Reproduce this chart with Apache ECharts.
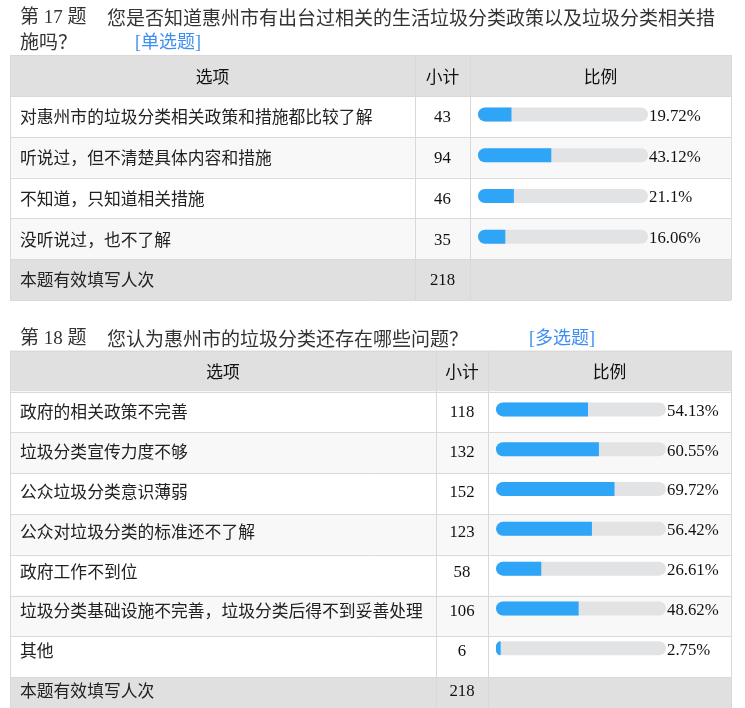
<!DOCTYPE html>
<html><head><meta charset="utf-8">
<script src="https://cdn.jsdelivr.net/npm/echarts@6/dist/echarts.min.js"></script>
<style>html,body{margin:0;padding:0;background:#fff}#c{width:745px;height:708px}</style>
</head><body><div id="c"></div>
<script>
// ---------- data ----------
const q17Title = ['第 17 题', '您是否知道惠州市有出台过相关的生活垃圾分类政策以及垃圾分类相关措', '施吗？'];
const q17Type = '[单选题]';
const q17Options = ['对惠州市的垃圾分类相关政策和措施都比较了解', '听说过，但不清楚具体内容和措施', '不知道，只知道相关措施', '没听说过，也不了解'];
const q17Counts = [43, 94, 46, 35];
const q17Percents = [19.72, 43.12, 21.1, 16.06];
const q17Total = 218;

const q18Title = ['第 18 题', '您认为惠州市的垃圾分类还存在哪些问题？'];
const q18Type = '[多选题]';
const q18Options = ['政府的相关政策不完善', '垃圾分类宣传力度不够', '公众垃圾分类意识薄弱', '公众对垃圾分类的标准还不了解', '政府工作不到位', '垃圾分类基础设施不完善，垃圾分类后得不到妥善处理', '其他'];
const q18Counts = [118, 132, 152, 123, 58, 106, 6];
const q18Percents = [54.13, 60.55, 69.72, 56.42, 26.61, 48.62, 2.75];
const q18Total = 218;

const headerLabels = ['选项', '小计', '比例'];
const footerLabel = '本题有效填写人次';
const percentMax = 100;

// ---------- styles / layout ----------
const SANS = '"Noto Sans CJK SC", sans-serif';
const SERIF = '"Liberation Serif", "Noto Sans CJK SC", serif';
const FS = 16.8;
const BLUE = '#2fa5f7';
const TRACK = '#e2e3e5';
const HEAD_BG = '#e0e0e0';
const ALT_BG = '#f8f8f8';
const LINE = '#d9d9d9';
const ROW_H = 40.8, HEAD_H = 41, BAR_W = 170;

const tables = [
  {top: 55, cols: [10, 415, 470, 731], barStart: 478,
   options: q17Options, counts: q17Counts, percents: q17Percents, total: q17Total},
  {top: 350.5, cols: [10, 436, 488, 731], barStart: 496,
   options: q18Options, counts: q18Counts, percents: q18Percents, total: q18Total}
];

const grids = [], xAxes = [], yAxes = [], series = [], graphics = [];

tables.forEach((t, i) => {
  const n = t.options.length + 1;
  const bodyTop = t.top + HEAD_H;
  const bottom = bodyTop + n * ROW_H;
  const [c0, c1, c2, c3] = t.cols;
  graphics.push({type: 'rect', z: 0, shape: {x: c0, y: t.top, width: c3 - c0, height: HEAD_H}, style: {fill: HEAD_BG}});
  for (let r = 0; r < n; r++) {
    const fill = r === n - 1 ? HEAD_BG : (r % 2 === 1 ? ALT_BG : '#ffffff');
    graphics.push({type: 'rect', z: 0, shape: {x: c0, y: bodyTop + r * ROW_H, width: c3 - c0, height: ROW_H}, style: {fill}});
  }
  const ys = [t.top, bodyTop];
  for (let r = 1; r <= n; r++) ys.push(bodyTop + r * ROW_H);
  ys.forEach(y => {
    const yy = Math.round(y) + 0.5;
    graphics.push({type: 'line', z: 1, shape: {x1: c0, y1: yy, x2: c3, y2: yy}, style: {stroke: LINE, lineWidth: 1}});
  });
  [c0, c1, c2, c3].forEach(x => {
    const xx = Math.round(x) + 0.5;
    graphics.push({type: 'line', z: 1, shape: {x1: xx, y1: t.top, x2: xx, y2: bottom}, style: {stroke: LINE, lineWidth: 1}});
  });
  const centers = [(c0 + c1) / 2, (c1 + c2) / 2, (c2 + c3) / 2];
  headerLabels.forEach((h, k) => {
    graphics.push({type: 'text', z: 2, x: centers[k], y: t.top + HEAD_H / 2 + 1,
      style: {text: h, fontSize: FS, fontFamily: SANS, fill: '#111', align: 'center', verticalAlign: 'middle'}});
  });

  grids.push({left: t.barStart, width: BAR_W, top: bodyTop - 2, height: n * ROW_H, containLabel: false});
  xAxes.push({gridIndex: i, type: 'value', min: 0, max: percentMax, show: false});
  const countCenter = (c1 + c2) / 2;
  yAxes.push({
    gridIndex: i, type: 'category', inverse: true, z: 10,
    data: t.options.concat([footerLabel]),
    axisLine: {show: false}, axisTick: {show: false}, splitLine: {show: false},
    axisLabel: {interval: 0, align: 'left', margin: t.barStart - 20,
      formatter: v => '{a|' + v + '}',
      rich: {a: {fontSize: FS, fontFamily: SANS, color: '#222', padding: [5, 0, 0, 0]}}}
  });
  yAxes.push({
    gridIndex: i, type: 'category', inverse: true, position: 'left', offset: 0, z: 10,
    data: t.counts.map(String).concat([String(t.total)]),
    axisLine: {show: false}, axisTick: {show: false}, splitLine: {show: false},
    axisLabel: {interval: 0, align: 'center', margin: t.barStart - countCenter,
      formatter: v => '{a|' + v + '}',
      rich: {a: {fontSize: FS, fontFamily: SERIF, color: '#111', padding: [7, 0, 0, 0]}}}
  });
  const pcts = t.percents;
  series.push({
    type: 'bar', xAxisIndex: i, yAxisIndex: i * 2, z: 5, barWidth: 14, barGap: '-100%', silent: true,
    data: t.options.map(() => percentMax).concat(['-']),
    itemStyle: {color: TRACK, borderRadius: 7},
    label: {show: true, position: 'right', distance: 1, offset: [0, 2], fontSize: FS, fontFamily: SERIF, color: '#111',
      formatter: p => pcts[p.dataIndex] + '%'}
  });
  series.push({
    type: 'bar', xAxisIndex: i, yAxisIndex: i * 2, z: 6, barWidth: 14, barGap: '-100%', silent: true,
    data: pcts.concat(['-']),
    itemStyle: {color: BLUE, borderRadius: [7, 0, 0, 7]}
  });
});

const TITLE_FS = 19;
const titleStyle = {fontSize: TITLE_FS, fontFamily: SERIF, fill: '#333', verticalAlign: 'middle', align: 'left'};
const titleCJK = Object.assign({}, titleStyle, {fontFamily: SANS});
graphics.push({type: 'text', z: 2, x: 20, y: 18, style: Object.assign({}, titleStyle, {text: q17Title[0]})});
graphics.push({type: 'text', z: 2, x: 107, y: 18, style: Object.assign({}, titleCJK, {text: q17Title[1]})});
graphics.push({type: 'text', z: 2, x: 20, y: 42, style: Object.assign({}, titleCJK, {text: q17Title[2]})});
graphics.push({type: 'text', z: 2, x: 135, y: 43, style: Object.assign({}, titleStyle, {text: q17Type, fill: '#3c8ef3', fontSize: 18})});
graphics.push({type: 'text', z: 2, x: 20, y: 339, style: Object.assign({}, titleStyle, {text: q18Title[0]})});
graphics.push({type: 'text', z: 2, x: 107, y: 339, style: Object.assign({}, titleCJK, {text: q18Title[1]})});
graphics.push({type: 'text', z: 2, x: 529, y: 339, style: Object.assign({}, titleStyle, {text: q18Type, fill: '#3c8ef3', fontSize: 18})});

const chart = echarts.init(document.getElementById('c'), null, {renderer: 'canvas'});
chart.setOption({
  animation: false,
  backgroundColor: '#ffffff',
  grid: grids, xAxis: xAxes, yAxis: yAxes, series,
  graphic: {elements: graphics}
});
</script></body></html>
